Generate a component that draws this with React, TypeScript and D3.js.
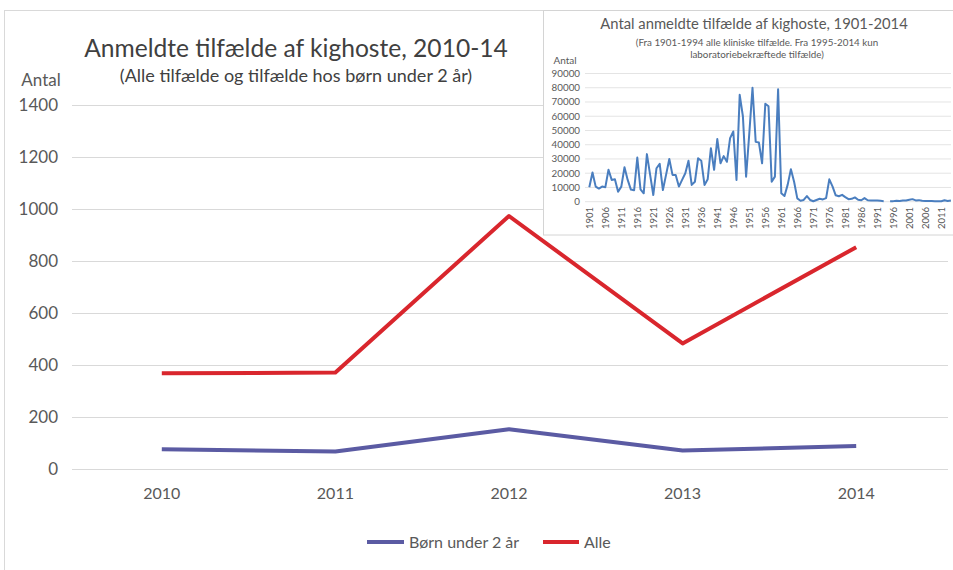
import React from 'react';
import * as d3 from 'd3';

// ---- Main chart data ----
const mainYears = ['2010', '2011', '2012', '2013', '2014'];
const boernValues = [78, 69, 155, 73, 90];
const alleValues = [370, 373, 975, 485, 855];
const mainYTicks = [0, 200, 400, 600, 800, 1000, 1200, 1400];
const seriesNames = ['Børn under 2 år', 'Alle'];

// ---- Inset (1901-2014) data ----
const histStart = 1901;
const histValues: (number | null)[] = [
  10100, 20500, 10600, 9200, 10600, 10100, 22400, 15300, 15800, 7000,
  10600, 24200, 15300, 8500, 8000, 31000, 8700, 5900, 33400, 19000,
  4700, 23500, 26600, 8200, 19000, 30000, 18800, 18800, 10600, 15300,
  20000, 28700, 11800, 14000, 30500, 28700, 11800, 15800, 37600, 22400,
  44000, 27000, 32000, 28000, 44600, 49300, 15300, 75000, 60000, 17600,
  48000, 80000, 42000, 41500, 27000, 68800, 67000, 14000, 17600, 79000,
  6000, 4000, 12000, 22800, 14000, 2300, 700, 1200, 4000, 1200,
  300, 1200, 2100, 1600, 2500, 15700, 10800, 4500, 3800, 4800,
  3200, 1800, 2000, 3000, 1400, 1000, 2500, 1000, 900, 800,
  800, 600, 400, null, 300, 400, 700, 500, 900, 800,
  1300, 1800, 900, 1100, 600, 500, 500, 500, 400, 370,
  373, 975, 485, 855,
];
const histYears = histValues.map((_, i) => histStart + i);
const histYTicks = [0, 10000, 20000, 30000, 40000, 50000, 60000, 70000, 80000, 90000];
const histXLabels = histYears.filter((y) => (y - histStart) % 5 === 0);

const FONT = 'Lato, "Open Sans", sans-serif';
const GREY = '#595959';
const RED = '#D9262D';
const PURPLE = '#5B5BA3';
const BLUE = '#4A7EBF';

export default function App() {
  const W = 953;
  const H = 570;

  // main scales
  const x = d3.scalePoint<string>().domain(mainYears).range([75, 943]).padding(0.5);
  const y = d3.scaleLinear().domain([0, 1400]).range([469.5, 105.5]);
  const line = d3
    .line<number>()
    .x((_, i) => x(mainYears[i]) as number)
    .y((d) => y(d));

  // inset scales
  const hx = d3.scalePoint<number>().domain(histYears).range([589.3, 950.9]);
  const hy = d3.scaleLinear().domain([0, 90000]).range([201.7, 73.5]);
  const hline = d3
    .line<number | null>()
    .defined((d) => d != null)
    .x((_, i) => hx(histYears[i]) as number)
    .y((d) => hy(d as number));

  return (
    <svg width={W} height={H} style={{ position: 'absolute', left: 0, top: 0 }} fontFamily={FONT}>
      <rect x={0} y={0} width={W} height={H} fill="#fff" />
      {/* outer frame */}
      <rect x={4.5} y={10.5} width={W + 20} height={H + 20} fill="none" stroke="#d9d9d9" />

      {/* main title */}
      <text x={296} y={57} textAnchor="middle" fontSize={24.6} fill="#404040">
        Anmeldte tilfælde af kighoste, 2010-14
      </text>
      <text x={296} y={82} textAnchor="middle" fontSize={18} fill="#404040">
        (Alle tilfælde og tilfælde hos børn under 2 år)
      </text>
      <text x={41} y={86} textAnchor="middle" fontSize={17} fill={GREY}>
        Antal
      </text>

      {/* gridlines + y labels */}
      {mainYTicks.map((t) => (
        <g key={t}>
          <line x1={72} x2={948} y1={y(t)} y2={y(t)} stroke="#d9d9d9" strokeWidth={1} />
          <text x={58} y={y(t)} dy="0.35em" textAnchor="end" fontSize={17} fill={GREY}>
            {t}
          </text>
        </g>
      ))}

      {/* x labels */}
      {mainYears.map((yr) => (
        <text key={yr} x={x(yr)} y={499} textAnchor="middle" fontSize={16} fill={GREY}>
          {yr}
        </text>
      ))}

      {/* lines */}
      <path d={line(boernValues) || ''} fill="none" stroke={PURPLE} strokeWidth={4} strokeLinejoin="round" />
      <path d={line(alleValues) || ''} fill="none" stroke={RED} strokeWidth={4} strokeLinejoin="round" />

      {/* legend */}
      <line x1={367} x2={404} y1={542} y2={542} stroke={PURPLE} strokeWidth={4} />
      <text x={409} y={542} dy="0.35em" fontSize={16} fill={GREY}>
        {seriesNames[0]}
      </text>
      <line x1={543} x2={579} y1={542} y2={542} stroke={RED} strokeWidth={4} />
      <text x={584} y={542} dy="0.35em" fontSize={16} fill={GREY}>
        {seriesNames[1]}
      </text>

      {/* ---- inset ---- */}
      <rect x={543.5} y={10.5} width={W} height={224.5} fill="#fff" stroke="#d4d4d4" />
      <text x={754} y={29} textAnchor="middle" fontSize={14.8} fill={GREY}>
        Antal anmeldte tilfælde af kighoste, 1901-2014
      </text>
      <text x={757} y={46} textAnchor="middle" fontSize={9.8} fill={GREY}>
        (Fra 1901-1994 alle kliniske tilfælde. Fra 1995-2014 kun
      </text>
      <text x={757} y={58} textAnchor="middle" fontSize={9.8} fill={GREY}>
        laboratoriebekræftede tilfælde)
      </text>
      <text x={565} y={64} textAnchor="middle" fontSize={10} fill={GREY}>
        Antal
      </text>
      {histYTicks.map((t) => (
        <g key={t}>
          <line x1={585} x2={951} y1={hy(t)} y2={hy(t)} stroke="#e4e4e4" strokeWidth={1} />
          <text x={580} y={hy(t)} dy="0.35em" textAnchor="end" fontSize={9.8} fill={GREY}>
            {t}
          </text>
        </g>
      ))}
      {histXLabels.map((yr) => (
        <text
          key={yr}
          transform={`translate(${(hx(yr) as number) + 3.3},${207}) rotate(-90)`}
          textAnchor="end"
          fontSize={9.5}
          fill={GREY}
        >
          {yr}
        </text>
      ))}
      <path d={hline(histValues) || ''} fill="none" stroke={BLUE} strokeWidth={2} strokeLinejoin="round" />
    </svg>
  );
}
